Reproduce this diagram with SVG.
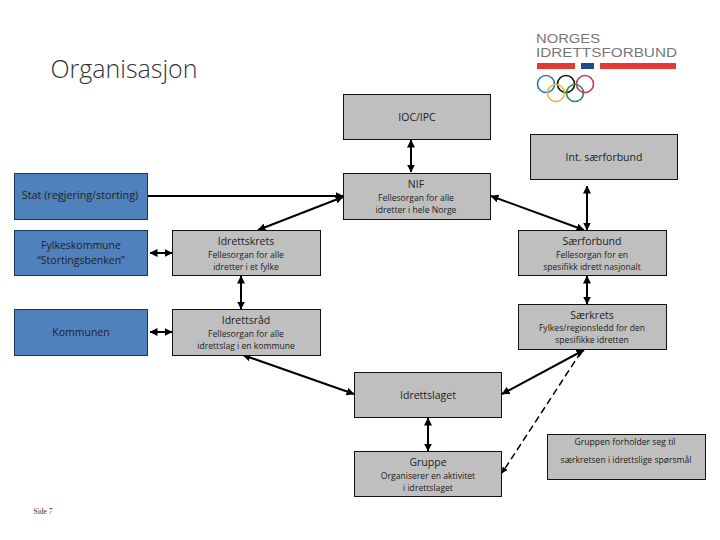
<svg xmlns="http://www.w3.org/2000/svg" width="720" height="540" viewBox="0 0 720 540">
<style>
text{font-family:"Open Sans","DejaVu Sans",sans-serif;fill:#222;text-anchor:middle}
.g{fill:#bfbfbf;stroke:#111;stroke-width:1}
.b{fill:#4f81bd;stroke:#17375e;stroke-width:1}
.h{font-size:10.5px}
.s{font-size:8.6px}
.c line{stroke:#000;stroke-width:2;marker-start:url(#a);marker-end:url(#a)}
.c line.o{marker-start:none}
.c line.d{stroke-width:1.5;stroke-dasharray:7 4;marker-start:none}
.r{fill:none;stroke-width:1.6}
.l{font-size:12.500px;font-family:"Liberation Sans",sans-serif;fill:#777;text-anchor:start}
</style>
<defs><marker id="a" viewBox="0 0 8 8" refX="7.5" refY="4" markerWidth="4" markerHeight="4" orient="auto-start-reverse" markerUnits="strokeWidth"><path d="M0 0L8 4L0 8Z" fill="#000"/></marker></defs>
<rect width="720" height="540" fill="#fff"/>
<text x="124" y="78" style="font-size:25px;font-family:'Open Sans',sans-serif;font-weight:300;fill:#333">Organisasjon</text>
<g id="logo">
<text class="l" x="536" y="43" textLength="64" lengthAdjust="spacingAndGlyphs">NORGES</text>
<text class="l" x="536" y="57" textLength="141" lengthAdjust="spacingAndGlyphs">IDRETTSFORBUND</text>
<rect x="537" y="63" width="38" height="6" fill="#e03c31"/><rect x="581" y="63" width="13" height="6" fill="#1c4c8c"/><rect x="600" y="63" width="76" height="6" fill="#e03c31"/>
<circle cx="546" cy="84" r="8.500" class="r" stroke="#2a7ab8"/><circle cx="566" cy="84" r="8.500" class="r" stroke="#111"/><circle cx="585" cy="84" r="8.500" class="r" stroke="#c8395a"/><circle cx="556" cy="93" r="8.500" class="r" stroke="#e8b840"/><circle cx="575" cy="93" r="8.500" class="r" stroke="#2e8b57"/>
</g>
<g id="connectors" class="c">
<line x1="411" y1="140" x2="411" y2="172"/>
<line class="o" x1="147" y1="196" x2="343" y2="196"/>
<line x1="343" y1="197" x2="258" y2="230"/>
<line x1="491" y1="196" x2="584" y2="230"/>
<line x1="587" y1="186" x2="587" y2="230"/>
<line x1="150" y1="253" x2="172" y2="253"/>
<line x1="241" y1="276" x2="241" y2="309"/>
<line x1="150" y1="332" x2="172" y2="332"/>
<line x1="587" y1="276" x2="587" y2="304"/>
<line x1="584" y1="350" x2="502" y2="394"/>
<line x1="354" y1="394" x2="243" y2="355"/>
<line x1="428" y1="418" x2="428" y2="451"/>
<line class="d" x1="581" y1="352" x2="502" y2="473"/>
</g>
<g id="ioc"><rect class="g" x="343.500" y="94.500" width="147" height="45"/><text class="h" x="417" y="121">IOC/IPC</text></g>
<g id="int"><rect class="g" x="530.500" y="134.500" width="147" height="45"/><text class="h" x="604" y="161">Int. særforbund</text></g>
<g id="nif"><rect class="g" x="343.500" y="173.500" width="147" height="46"/><text class="h" x="416" y="188">NIF</text><text class="s" x="416" y="201">Fellesorgan for alle</text><text class="s" x="416" y="213">idretter i hele Norge</text></g>
<g id="stat"><rect class="b" x="14.500" y="173.500" width="133" height="46"/><text x="80" y="199" style="font-size:10.800px">Stat (regjering/storting)</text></g>
<g id="fylke"><rect class="b" x="14.500" y="230.500" width="133" height="45"/><text class="h" x="81" y="249">Fylkeskommune</text><text class="h" x="81" y="264">“Stortingsbenken”</text></g>
<g id="kommune"><rect class="b" x="14.500" y="309.500" width="133" height="46"/><text class="h" x="81" y="336">Kommunen</text></g>
<g id="krets"><rect class="g" x="172.500" y="230.500" width="148" height="45"/><text class="h" x="246" y="245">Idrettskrets</text><text class="s" x="246" y="258">Fellesorgan for alle</text><text class="s" x="246" y="270">idretter i et fylke</text></g>
<g id="raad"><rect class="g" x="172.500" y="309.500" width="148" height="46"/><text class="h" x="246" y="324">Idrettsråd</text><text class="s" x="246" y="337">Fellesorgan for alle</text><text class="s" x="246" y="349">idrettslag i en kommune</text></g>
<g id="sarforbund"><rect class="g" x="518.500" y="230.500" width="148" height="45"/><text class="h" x="592" y="245">Særforbund</text><text class="s" x="592" y="258">Fellesorgan for en</text><text class="s" x="592" y="270">spesifikk idrett nasjonalt</text></g>
<g id="sarkrets"><rect class="g" x="518.500" y="304.500" width="148" height="45"/><text class="h" x="592" y="319">Særkrets</text><text class="s" x="592" y="331">Fylkes/regionsledd for den</text><text class="s" x="592" y="343">spesifikke idretten</text></g>
<g id="idrettslaget"><rect class="g" x="354.500" y="372.500" width="147" height="45"/><text class="h" x="428" y="399">Idrettslaget</text></g>
<g id="gruppe"><rect class="g" x="354.500" y="451.500" width="147" height="45"/><text class="h" x="428" y="466">Gruppe</text><text class="s" x="428" y="479">Organiserer en aktivitet</text><text class="s" x="428" y="491">i idrettslaget</text></g>
<g id="note"><rect class="g" x="547.500" y="434.500" width="158" height="45"/><text class="s" x="625" y="445">Gruppen forholder seg til</text><text class="s" x="626" y="463">særkretsen i idrettslige spørsmål</text></g>
<text x="43" y="514" style="font-size:7.500px;font-family:'Liberation Serif',serif;fill:#333">Side 7</text>
</svg>
